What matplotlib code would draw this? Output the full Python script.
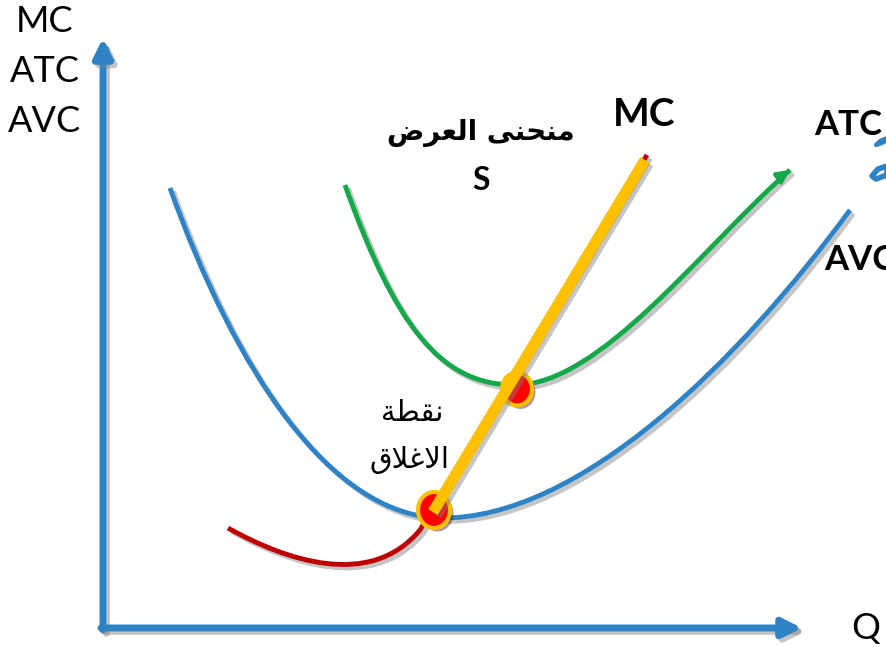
import matplotlib
matplotlib.use("Agg")
import matplotlib.pyplot as plt
import matplotlib.patheffects as pe
from matplotlib.path import Path
from matplotlib.patches import PathPatch, Ellipse

# curve control points, picture pixel coords (x right, y down)
avc_pts = [(170, 188), (235, 370), (330, 515), (440, 518),
           (580, 520), (740, 360), (850, 210)]
atc_pts = [(345, 185), (395, 325), (440, 385), (515, 385),
           (600, 385), (700, 250), (790, 170)]
mc_pts = [(228, 528), (285, 560), (370, 590), (420, 530), (647, 155)]
supply_pts = [(433, 512), (645, 160)]
dots = [(434, 510, 32, 36), (517, 389, 30, 33)]

# Arabic text, written in display order with presentation forms
supply_label = "\uFEBD\uFEAE\uFECC\uFEDF\uFE8D \uFEF0\uFEE8\uFEA4\uFEE8\uFEE3"
shutdown_1 = "\uFE94\uFEC4\uFED8\uFEE7"
shutdown_2 = "\uFED5\uFEFC\uFECF\uFEFB\uFE8D"

blue = "#2e83c7"
green = "#14a84a"
red = "#c00000"
orange = "#ffc000"

shadow = [pe.SimpleLineShadow(offset=(2.5, -2.5), shadow_color="gray", alpha=0.45),
          pe.Normal()]

fig = plt.figure(figsize=(8.87, 6.47), dpi=100)
ax = fig.add_axes([0, 0, 1, 1])
ax.set_xlim(0, 887)
ax.set_ylim(647, 0)
ax.axis("off")

C4 = Path.CURVE4
avc_path = Path(avc_pts, [Path.MOVETO, C4, C4, C4, C4, C4, C4])
atc_path = Path(atc_pts, [Path.MOVETO, C4, C4, C4, C4, C4, C4])
mc_path = Path(mc_pts, [Path.MOVETO, C4, C4, C4, Path.LINETO])

# axes
arr = dict(arrowstyle="-|>", lw=5, color=blue, mutation_scale=28,
           shrinkA=0, shrinkB=0, path_effects=shadow)
ax.annotate("", xy=(103, 38), xytext=(103, 630), arrowprops=arr)
ax.annotate("", xy=(802, 628), xytext=(101, 628), arrowprops=arr)

ax.add_patch(PathPatch(avc_path, fill=False, ec=blue, lw=3.5, capstyle="butt",
                       path_effects=shadow))
ax.add_patch(PathPatch(mc_path, fill=False, ec=red, lw=3.5, capstyle="butt",
                       path_effects=shadow))
ax.add_patch(PathPatch(atc_path, fill=False, ec=green, lw=3.5, capstyle="butt",
                       path_effects=shadow))
# arrow head on ATC
ax.annotate("", xy=atc_pts[-1], xytext=(780, 177),
            arrowprops=dict(arrowstyle="-|>", lw=3, color=green, mutation_scale=18,
                            shrinkA=0, shrinkB=0))

for x, y, w, h in dots:
    ax.add_patch(Ellipse((x, y), w, h, fc="#ff0000", ec=orange, lw=3, zorder=4,
                         path_effects=[pe.SimplePatchShadow(offset=(2.5, -2.5), alpha=0.4),
                                       pe.Normal()]))

sx, sy = zip(*supply_pts)
ax.plot(sx, sy, color=orange, lw=8, solid_capstyle="butt", zorder=5,
        path_effects=shadow)

# clipped blue scribble at the right edge
ax.plot([887, 880, 876, 882, 887], [138, 141, 145, 143, 140], color=blue, lw=3)
ax.plot([887, 878, 872, 876, 887, 887], [166, 169, 176, 179, 175, 170], color=blue, lw=4)

lat = ["Lato", "DejaVu Sans"]
for i, s in enumerate(["MC", "ATC", "AVC"]):
    ax.text(45, 22 + 50 * i, s, fontsize=26, ha="center", va="center", family=lat)
ax.text(866, 628, "Q", fontsize=26, ha="center", va="center", family=lat)
ax.text(644, 115, "MC", fontsize=28, ha="center", va="center", fontweight="bold", family=lat)
ax.text(814, 125, "ATC", fontsize=25, ha="left", va="center", fontweight="bold", family=lat)
ax.text(824, 260, "AVC", fontsize=25, ha="left", va="center", fontweight="bold", family=lat)
ax.text(481, 180, "S", fontsize=23, ha="center", va="center", fontweight="bold", family=lat)

ax.text(481, 133, supply_label, fontsize=20, ha="center", va="center",
        fontweight="bold", family="DejaVu Sans")
ax.text(412, 413, shutdown_1, fontsize=21, ha="center", va="center", family="DejaVu Sans")
ax.text(410, 460, shutdown_2, fontsize=21, ha="center", va="center", family="DejaVu Sans")

fig.savefig("out.png", dpi=100)
